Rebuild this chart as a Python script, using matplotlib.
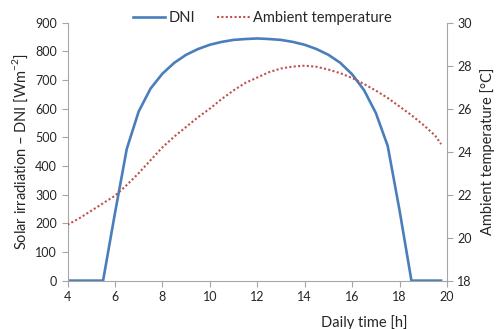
import matplotlib
matplotlib.use("Agg")
import matplotlib.pyplot as plt

plt.rcParams['font.family'] = ['Lato', 'DejaVu Sans']
plt.rcParams['mathtext.fontset'] = 'custom'
plt.rcParams['mathtext.rm'] = 'Lato'

# time of day [h]
hours = [4, 4.5, 5, 5.5, 6, 6.5, 7, 7.5, 8, 8.5, 9, 9.5, 10, 10.5, 11, 11.5, 12,
         12.5, 13, 13.5, 14, 14.5, 15, 15.5, 16, 16.5, 17, 17.5, 18, 18.5, 19, 19.5, 19.75]
# direct normal irradiance [W/m2]
dni = [0, 0, 0, 0, 235, 460, 590, 670, 722, 760, 788, 808, 823, 833, 840, 843, 845,
       843, 840, 833, 823, 808, 788, 760, 720, 665, 585, 470, 245, 0, 0, 0, 0]
# ambient temperature [C]
temp = [20.6, 20.9, 21.25, 21.6, 21.95, 22.45, 23.0, 23.6, 24.2, 24.7, 25.15, 25.6, 26.0,
        26.45, 26.85, 27.2, 27.45, 27.7, 27.87, 27.96, 28.0, 27.95, 27.82, 27.65, 27.43,
        27.15, 26.84, 26.5, 26.1, 25.7, 25.25, 24.75, 24.35]

grey = '#a6a6a6'
txt = '#262626'

fig = plt.figure(figsize=(5, 3.29), dpi=100)
ax = fig.add_axes([0.135, 0.147, 0.759, 0.784])
ax2 = ax.twinx()

l1, = ax.plot(hours, dni, color='#4a7ebb', lw=1.9, label='DNI')
l2, = ax2.plot(hours, temp, color='#c0504d', lw=1.5, dashes=(1, 1.1), label='Ambient temperature')

ax.set_xlim(4, 20)
ax.set_ylim(0, 900)
ax2.set_ylim(18, 30)
ax.set_xticks(range(4, 21, 2))
ax.set_yticks(range(0, 901, 100))
ax2.set_yticks(range(18, 31, 2))

for a in (ax, ax2):
    for s in a.spines.values():
        s.set_color(grey)
    a.spines['top'].set_visible(False)
    a.tick_params(colors=grey, labelcolor=txt, labelsize=9, length=4, width=0.8)
ax.spines['right'].set_visible(False)
ax2.spines['left'].set_visible(False)
ax2.spines['bottom'].set_visible(False)

ax.set_xlabel('Daily time [h]', fontsize=10.5, color=txt)
ax.xaxis.set_label_coords(0.782, -0.135)
ax.set_ylabel(r'Solar irradiation – DNI [Wm$^{\mathregular{-2}}$]', fontsize=10.5, color=txt, labelpad=4)
ax2.set_ylabel('Ambient temperature [°C]', fontsize=10.5, color=txt, labelpad=6)

fig.legend(handles=[l1, l2], loc='center', bbox_to_anchor=(0.524, 0.945), ncol=2,
           frameon=False, fontsize=10.5, handlelength=2.25, columnspacing=1.5,
           handletextpad=0.2, labelcolor=txt)

fig.savefig('out.png', dpi=100)
